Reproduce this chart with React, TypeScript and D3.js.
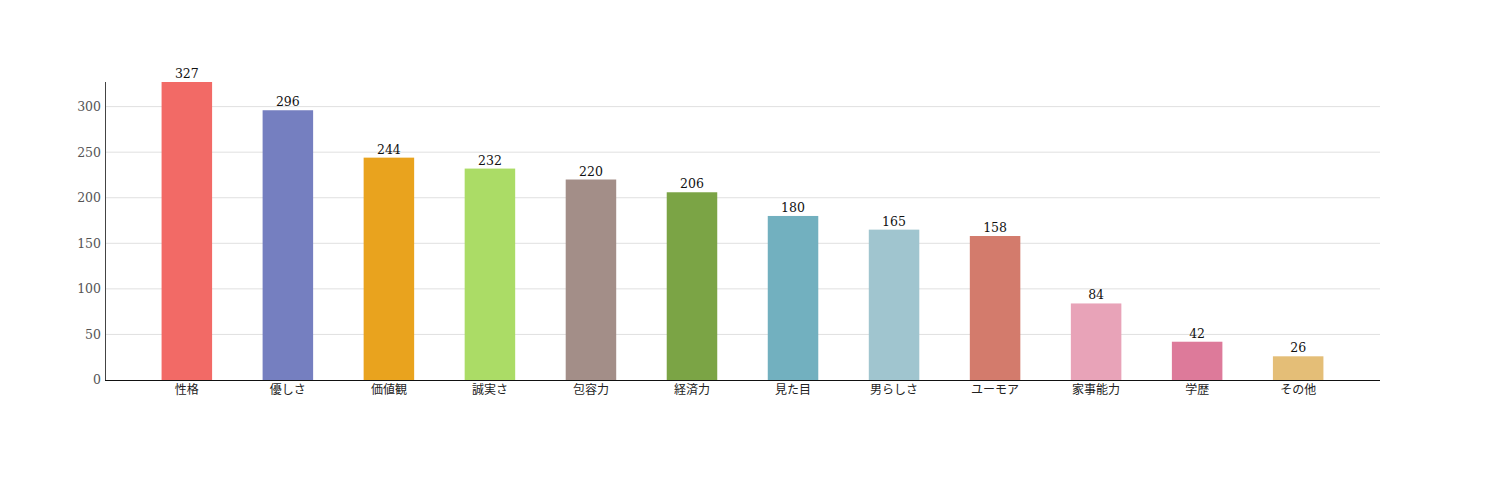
import { FC, useRef, useEffect } from 'react'
import * as d3 from 'd3'

const categories = ['性格', '優しさ', '価値観', '誠実さ', '包容力', '経済力', '見た目', '男らしさ', 'ユーモア', '家事能力', '学歴', 'その他']
const counts = [327, 296, 244, 232, 220, 206, 180, 165, 158, 84, 42, 26]
const colors = ['#f26a66', '#757fc0', '#e9a31e', '#abdc66', '#a38e88', '#7ba445', '#72b0bf', '#a0c5cf', '#d37b6c', '#e8a3b8', '#dd7a9a', '#e4be77']
const yTicks = [0, 50, 100, 150, 200, 250, 300]

const App: FC = () => {
  const svgRef = useRef<SVGSVGElement>(null)

  useEffect(() => {
    if (!svgRef.current) return
    const svg = d3.select(svgRef.current)
    svg.selectAll('*').remove()

    const width = 1503
    const height = 500
    const margin = { top: 82, right: 123, bottom: 120, left: 105 }
    const chartWidth = width - margin.left - margin.right
    const chartHeight = height - margin.top - margin.bottom

    svg.attr('width', width).attr('height', height)

    const g = svg.append('g').attr('transform', `translate(${margin.left},${margin.top})`)

    const x = d3.scaleBand<string>()
      .domain(categories)
      .range([0, chartWidth])
      .paddingInner(0.5)
      .paddingOuter(0.56)

    const y = d3.scaleLinear()
      .domain([0, d3.max(counts) || 0])
      .range([chartHeight, 0])

    // grid
    g.selectAll('.grid')
      .data(yTicks.filter(t => t > 0))
      .join('line')
      .attr('x1', 0)
      .attr('x2', chartWidth)
      .attr('y1', d => y(d))
      .attr('y2', d => y(d))
      .attr('stroke', '#e0e0e0')
      .attr('stroke-width', 1)

    // y tick labels
    g.selectAll('.ytick')
      .data(yTicks)
      .join('text')
      .attr('x', -4)
      .attr('y', d => y(d))
      .attr('dy', '0.35em')
      .attr('text-anchor', 'end')
      .attr('fill', '#555')
      .attr('font-family', '"DejaVu Serif", serif')
      .attr('font-size', '12.5px')
      .text(d => d)

    const data = categories.map((c, i) => ({ c, v: counts[i], color: colors[i] }))

    g.selectAll('.bar')
      .data(data)
      .join('rect')
      .attr('x', d => x(d.c) || 0)
      .attr('y', d => y(d.v))
      .attr('width', x.bandwidth())
      .attr('height', d => chartHeight - y(d.v))
      .attr('fill', d => d.color)

    g.selectAll('.val')
      .data(data)
      .join('text')
      .attr('x', d => (x(d.c) || 0) + x.bandwidth() / 2)
      .attr('y', d => y(d.v) - 4)
      .attr('text-anchor', 'middle')
      .attr('fill', '#111')
      .attr('font-family', '"DejaVu Serif", serif')
      .attr('font-size', '12.5px')
      .text(d => d.v)

    g.selectAll('.cat')
      .data(data)
      .join('text')
      .attr('x', d => (x(d.c) || 0) + x.bandwidth() / 2)
      .attr('y', chartHeight + 14)
      .attr('text-anchor', 'middle')
      .attr('fill', '#222')
      .attr('font-family', '"Noto Sans CJK JP", sans-serif')
      .attr('font-size', '12px')
      .text(d => d.c)

    // axes lines
    g.append('line')
      .attr('x1', 0.5).attr('x2', 0.5)
      .attr('y1', 0).attr('y2', chartHeight)
      .attr('stroke', '#444')
    g.append('line')
      .attr('x1', 0).attr('x2', chartWidth)
      .attr('y1', chartHeight + 0.5).attr('y2', chartHeight + 0.5)
      .attr('stroke', '#111')
  }, [])

  return (
    <div style={{ position: 'absolute', left: 0, top: 0 }}>
      <svg ref={svgRef} style={{ display: 'block' }} />
    </div>
  )
}

export default App
